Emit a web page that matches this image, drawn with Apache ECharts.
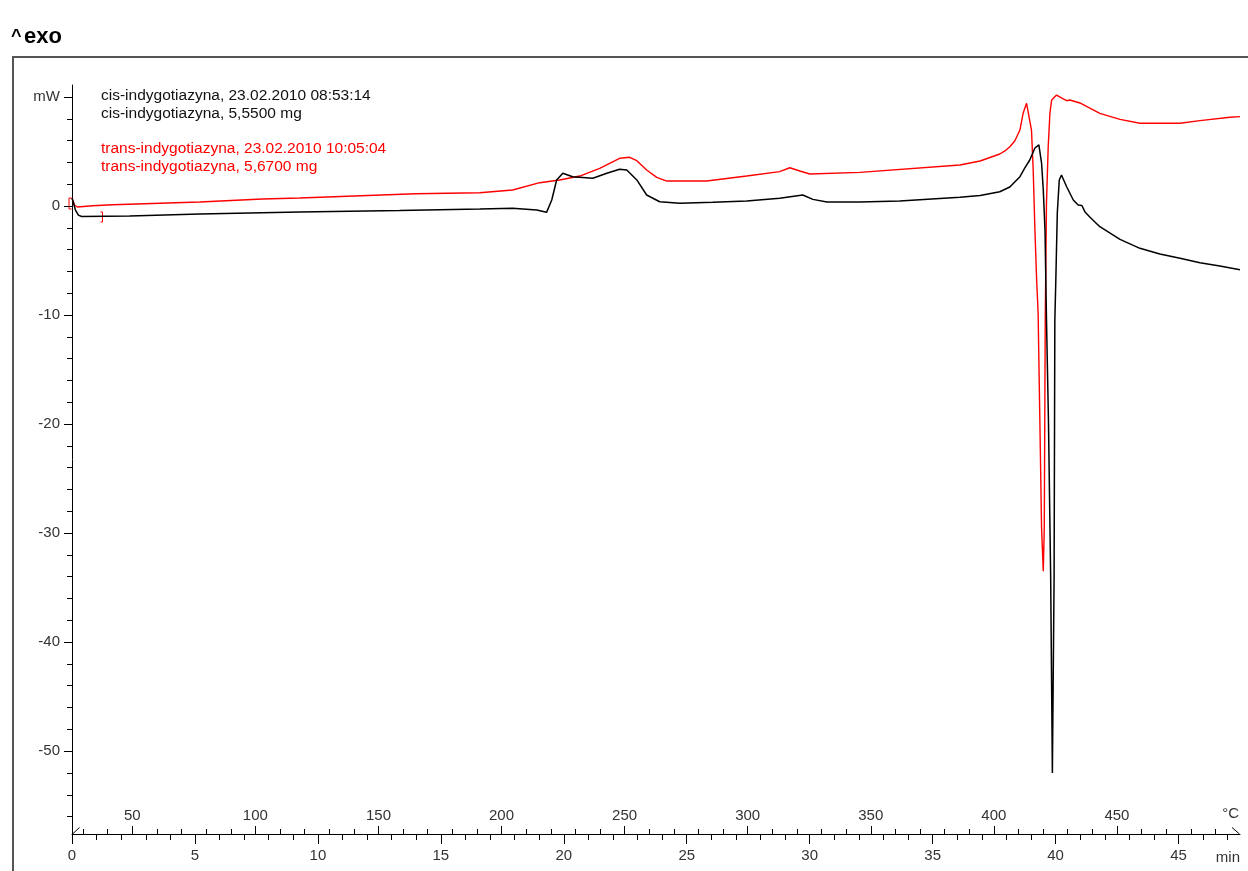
<!DOCTYPE html>
<html>
<head>
<meta charset="utf-8">
<style>
  html, body { margin: 0; padding: 0; background: #fff; }
  #chart { width: 1248px; height: 871px; }
</style>
<script src="https://cdn.jsdelivr.net/npm/echarts@6/dist/echarts.min.js"></script>
</head>
<body>
<div id="chart"></div>
<script>
// ---- data (time in min, heat flow in mW) ----
const cisTime = [0, 0.06, 0.14, 0.26, 0.39, 2.34, 5.19, 9.26, 13.32, 16.58, 17.92, 18.90, 19.30, 19.51, 19.71, 19.96, 20.36, 21.18, 21.75, 22.27, 22.56, 22.97, 23.37, 23.90, 24.72, 26.06, 27.44, 28.78, 29.72, 30.13, 30.70, 32.04, 33.66, 36.11, 36.93, 37.73, 38.14, 38.55, 38.75, 38.95, 39.16, 39.32, 39.43, 39.50, 39.57, 39.63, 39.71, 39.80, 39.87, 39.94, 39.97, 40.01, 40.07, 40.15, 40.24, 40.45, 40.72, 40.92, 41.07, 41.19, 41.39, 41.80, 42.62, 43.43, 44.24, 45.06, 45.87, 46.68, 47.5];
const cisMW = [0.73, 0.28, -0.37, -0.83, -0.96, -0.92, -0.73, -0.55, -0.41, -0.28, -0.21, -0.37, -0.58, 0.55, 2.39, 3.0, 2.69, 2.54, 3.0, 3.37, 3.30, 2.39, 1.01, 0.39, 0.25, 0.34, 0.46, 0.71, 1.01, 0.61, 0.37, 0.37, 0.46, 0.80, 0.96, 1.31, 1.74, 2.69, 3.49, 4.22, 5.32, 5.60, 3.94, 1.47, -2.20, -10.46, -19.6, -33.94, -52.0, -33.94, -10.46, -6.79, -0.64, 2.39, 2.84, 1.77, 0.55, 0.09, 0.05, -0.52, -1.0, -1.90, -3.06, -3.88, -4.40, -4.80, -5.20, -5.50, -5.85];

const transTime = [0, 0.10, 0.22, 0.83, 1.65, 5.19, 7.75, 9.26, 13.97, 16.58, 17.92, 19.02, 19.83, 20.65, 21.46, 22.27, 22.68, 22.97, 23.37, 23.78, 24.19, 25.81, 27.44, 28.78, 29.19, 29.60, 30.00, 32.04, 36.11, 36.93, 37.73, 37.94, 38.14, 38.34, 38.55, 38.68, 38.82, 38.88, 39.02, 39.09, 39.16, 39.23, 39.29, 39.36, 39.43, 39.50, 39.54, 39.58, 39.63, 39.70, 39.77, 39.84, 40.04, 40.24, 40.45, 40.58, 40.99, 41.80, 42.62, 43.43, 45.06, 45.87, 47.09, 47.5];
const transMW = [0.73, 0.09, -0.09, 0.03, 0.12, 0.37, 0.64, 0.73, 1.13, 1.22, 1.47, 2.14, 2.39, 2.75, 3.46, 4.38, 4.47, 4.16, 3.30, 2.63, 2.29, 2.29, 2.75, 3.15, 3.51, 3.21, 2.94, 3.09, 3.76, 4.13, 4.77, 5.05, 5.44, 5.96, 6.97, 8.50, 9.42, 9.27, 6.97, 3.30, -2.20, -6.79, -9.82, -19.6, -29.54, -33.49, -29.54, -10.46, 0.28, 5.41, 8.53, 9.72, 10.18, 9.91, 9.66, 9.72, 9.45, 8.50, 7.95, 7.59, 7.59, 7.83, 8.14, 8.2];

// ---- axes / labels ----
const timeMajorTicks = [0, 5, 10, 15, 20, 25, 30, 35, 40, 45];
const timeMinorTicks = [0,1,2,3,4,5,6,7,8,9,10,11,12,13,14,15,16,17,18,19,20,21,22,23,24,25,26,27,28,29,30,31,32,33,34,35,36,37,38,39,40,41,42,43,44,45,46,47];
const tempMajorTicks = [50, 100, 150, 200, 250, 300, 350, 400, 450];
const tempMinorTicks = [30,40,50,60,70,80,90,100,110,120,130,140,150,160,170,180,190,200,210,220,230,240,250,260,270,280,290,300,310,320,330,340,350,360,370,380,390,400,410,420,430,440,450,460,470,480,490];
const mwMajorTicks = [-50, -40, -30, -20, -10, 0, 10];
const mwMinorTicks = [-56,-54,-52,-50,-48,-46,-44,-42,-40,-38,-36,-34,-32,-30,-28,-26,-24,-22,-20,-18,-16,-14,-12,-10,-8,-6,-4,-2,0,2,4,6,8,10];

const legendLines = [
  'cis-indygotiazyna, 23.02.2010 08:53:14',
  'cis-indygotiazyna, 5,5500 mg',
  'trans-indygotiazyna, 23.02.2010 10:05:04',
  'trans-indygotiazyna, 5,6700 mg'
];

const timeMin = 0, timeMax = 47.5;
const tempStart = 25.5, tempEnd = 500;
const mwMin = -57.6, mwMax = 11.1;

const FONT = 'Liberation Sans';
const LBL = '#333';

function zip(a, b) { return a.map((v, i) => [v, b[i]]); }

const chart = echarts.init(document.getElementById('chart'), null, { renderer: 'canvas' });

const option = {
  animation: false,
  backgroundColor: '#fff',
  textStyle: { fontFamily: FONT },
  grid: { left: 72, top: 85, right: 8, bottom: 37, containLabel: false },
  xAxis: [
    {
      type: 'value', min: timeMin, max: timeMax, position: 'bottom',
      axisLine: { show: true, onZero: false, lineStyle: { color: '#000', width: 1 } },
      axisTick: { show: true, length: 10, customValues: timeMajorTicks, lineStyle: { color: '#000' } },
      axisLabel: { customValues: timeMajorTicks, margin: 14, fontSize: 15, color: LBL, fontFamily: FONT },
      splitLine: { show: false }
    },
    {
      type: 'value', min: timeMin, max: timeMax, position: 'bottom',
      axisLine: { show: false, onZero: false },
      axisTick: { show: true, length: 6, customValues: timeMinorTicks, lineStyle: { color: '#000' } },
      axisLabel: { show: false },
      splitLine: { show: false }
    },
    {
      type: 'value', min: tempStart, max: tempEnd, position: 'bottom',
      axisLine: { show: false, onZero: false },
      axisTick: { show: true, inside: true, length: 8, customValues: tempMajorTicks, lineStyle: { color: '#000' } },
      axisLabel: { inside: true, customValues: tempMajorTicks, margin: 11, fontSize: 15, color: LBL, fontFamily: FONT },
      splitLine: { show: false }
    },
    {
      type: 'value', min: tempStart, max: tempEnd, position: 'bottom',
      axisLine: { show: false, onZero: false },
      axisTick: { show: true, inside: true, length: 5, customValues: tempMinorTicks, lineStyle: { color: '#000' } },
      axisLabel: { show: false },
      splitLine: { show: false }
    }
  ],
  yAxis: [
    {
      type: 'value', min: mwMin, max: mwMax, position: 'left',
      axisLine: { show: true, onZero: false, lineStyle: { color: '#000', width: 1 } },
      axisTick: { show: true, length: 8, customValues: mwMajorTicks, lineStyle: { color: '#000' } },
      axisLabel: {
        customValues: mwMajorTicks, margin: 12, fontSize: 15, color: LBL, fontFamily: FONT,
        formatter: v => (v === 10 ? 'mW' : String(v))
      },
      splitLine: { show: false }
    },
    {
      type: 'value', min: mwMin, max: mwMax, position: 'left',
      axisLine: { show: false, onZero: false },
      axisTick: { show: true, length: 5, customValues: mwMinorTicks, lineStyle: { color: '#000' } },
      axisLabel: { show: false },
      splitLine: { show: false }
    }
  ],
  series: [
    {
      name: 'trans-indygotiazyna', type: 'line', xAxisIndex: 0, yAxisIndex: 0,
      data: zip(transTime, transMW), showSymbol: false, symbol: 'none',
      lineStyle: { color: '#ff0000', width: 1.4 }, clip: false
    },
    {
      name: 'cis-indygotiazyna', type: 'line', xAxisIndex: 0, yAxisIndex: 0,
      data: zip(cisTime, cisMW), showSymbol: false, symbol: 'none',
      lineStyle: { color: '#000000', width: 1.5 }, clip: false
    }
  ],
  graphic: [
    { type: 'rect', shape: { x: 13, y: 57, width: 1260, height: 840 },
      style: { fill: 'none', stroke: '#555', lineWidth: 2 }, silent: true },
    { type: 'text', left: 11, top: 28, style: { text: '^', font: 'bold 18px "Liberation Sans"', fill: '#000' } },
    { type: 'text', left: 24, top: 26, style: { text: 'exo', font: 'bold 22px "Liberation Sans"', fill: '#000' } },
    { type: 'text', left: 101, top: 88, style: { text: legendLines[0], font: '15.5px "Liberation Sans"', fill: '#111' } },
    { type: 'text', left: 101, top: 106, style: { text: legendLines[1], font: '15.5px "Liberation Sans"', fill: '#111' } },
    { type: 'text', left: 101, top: 141, style: { text: legendLines[2], font: '15.5px "Liberation Sans"', fill: '#ff0000' } },
    { type: 'text', left: 101, top: 159, style: { text: legendLines[3], font: '15.5px "Liberation Sans"', fill: '#ff0000' } },
    { type: 'text', right: 9, top: 806, style: { text: '°C', font: '15px "Liberation Sans"', fill: LBL } },
    { type: 'text', right: 8, top: 850, style: { text: 'min', font: '15px "Liberation Sans"', fill: LBL } },
    { type: 'line', shape: { x1: 72.5, y1: 834, x2: 79.5, y2: 827.5 }, style: { stroke: '#000', lineWidth: 1 } },
    { type: 'line', shape: { x1: 1232, y1: 827.5, x2: 1239.5, y2: 834 }, style: { stroke: '#000', lineWidth: 1 } },
    { type: 'polyline', shape: { points: [[71.5, 198], [69, 198], [69, 209], [71.5, 209]] }, style: { stroke: '#ff0000', lineWidth: 1, fill: 'none' } },
    { type: 'polyline', shape: { points: [[100.5, 212], [102.5, 212], [102.5, 222], [100.5, 222]] }, style: { stroke: '#ff0000', lineWidth: 1, fill: 'none' } }
  ]
};

chart.setOption(option);
</script>
</body>
</html>
